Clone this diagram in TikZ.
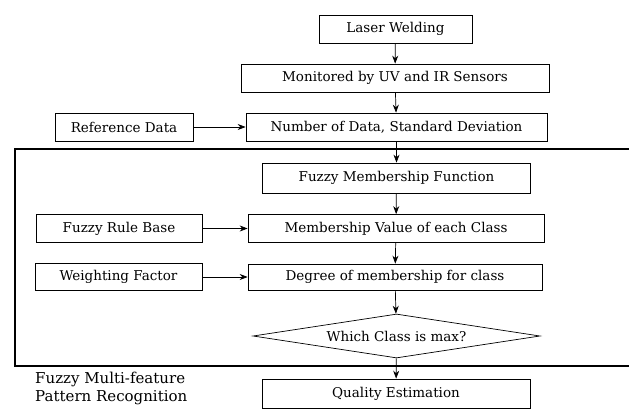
\documentclass[tikz,border=0pt]{standalone}
\usepackage{fontspec}
\setmainfont{DejaVu Serif}
\usetikzlibrary{arrows.meta,shapes.geometric}

\begin{document}
\begin{tikzpicture}[x=1pt,y=-1pt,
    box/.style={draw,line width=0.7pt,rectangle,inner sep=0pt,font=\fontsize{13.5}{15}\selectfont},
    flow/.style={-{Stealth[length=8pt,width=6pt]},line width=0.7pt}]
\useasboundingbox (0,0) rectangle (629,409);

% Frame of the recognition part
\draw[line width=1.3pt] (629,149) -- (15,149) -- (15,366) -- (629,366);

% Main column
\node[box,minimum width=153pt,minimum height=28pt] (laser) at (395.5,29) {Laser Welding};
\node[box,minimum width=308pt,minimum height=28pt] (monitor) at (395,78) {Monitored by UV and IR Sensors};
\node[box,minimum width=301pt,minimum height=28pt] (number) at (396.5,127) {Number of Data, Standard Deviation};
\node[box,minimum width=268pt,minimum height=30pt] (fuzzymf) at (396.5,178) {Fuzzy Membership Function};
\node[box,minimum width=296pt,minimum height=28pt] (memval) at (396,228.5) {Membership Value of each Class};
\node[box,minimum width=294pt,minimum height=26pt] (degree) at (395,277) {Degree of membership for class};
\node[box,shape=diamond,aspect=6.5,minimum width=287pt,minimum height=44pt] (decision) at (396.5,336) {Which Class is max?};
\node[box,minimum width=268pt,minimum height=29pt] (quality) at (396,393.5) {Quality Estimation};

% Side inputs
\node[box,minimum width=138pt,minimum height=28pt] (refdata) at (124,127) {Reference Data};
\node[box,minimum width=166pt,minimum height=28pt] (rulebase) at (119,228.5) {Fuzzy Rule Base};
\node[box,minimum width=167pt,minimum height=27pt] (weight) at (118.5,277) {Weighting Factor};

% Caption of the frame
\node[anchor=north west,align=left,inner sep=0pt,font=\fontsize{15}{18}\selectfont] (caption) at (35,372) {Fuzzy Multi-feature\\Pattern Recognition};

% Connectors
\draw[flow] (laser) -- (monitor);
\draw[flow] (monitor) -- (number);
\draw[flow] (number) -- (fuzzymf);
\draw[flow] (fuzzymf) -- (memval);
\draw[flow] (memval) -- (degree);
\draw[flow] (degree) -- (decision);
\draw[flow] (decision) -- (quality);
\draw[flow] (refdata) -- (number);
\draw[flow] (rulebase) -- (memval);
\draw[flow] (weight) -- (degree);
\end{tikzpicture}
\end{document}
